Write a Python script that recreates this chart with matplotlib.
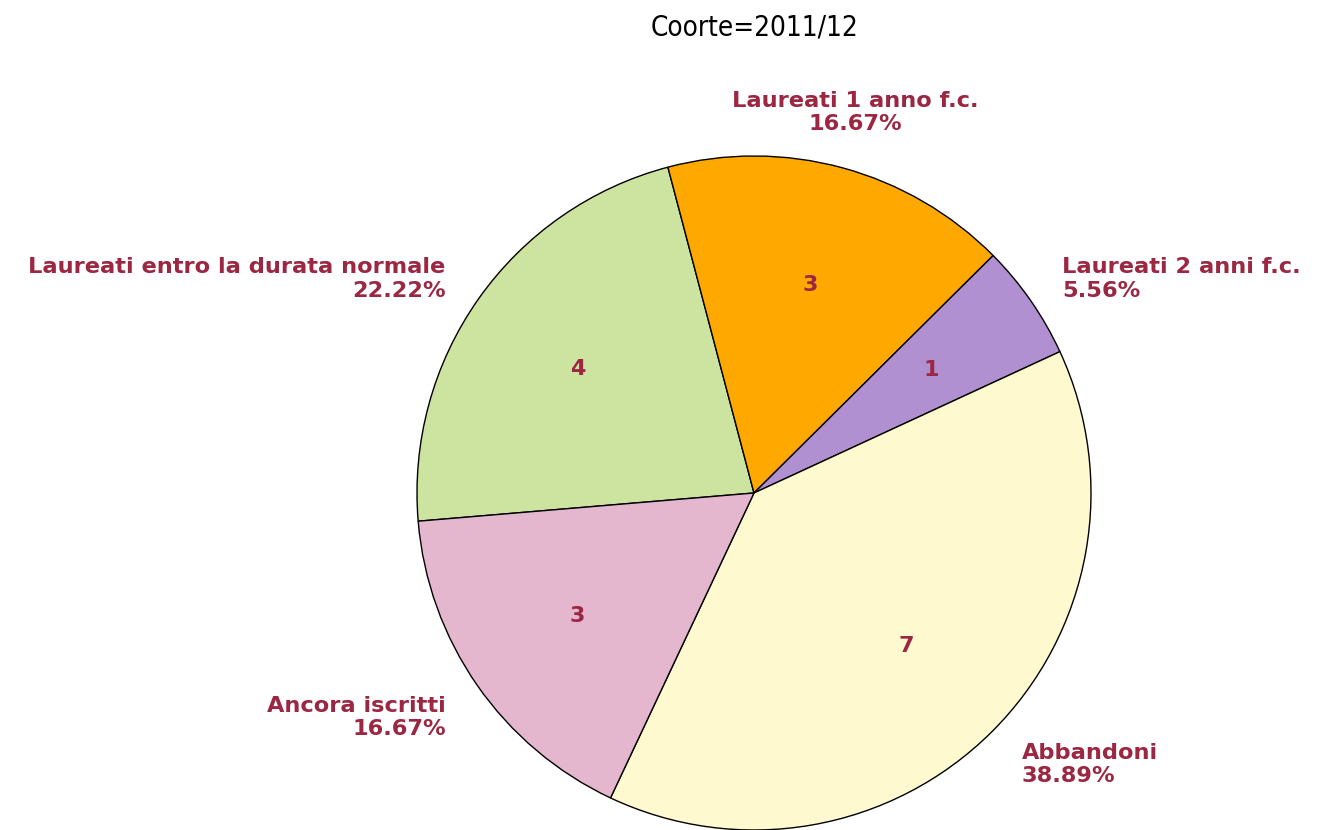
import matplotlib
matplotlib.use('Agg')
import matplotlib.pyplot as plt

categories = ['Laureati entro la durata normale', 'Laureati 1 anno f.c.',
              'Laureati 2 anni f.c.', 'Abbandoni', 'Ancora iscritti']
counts = [4, 3, 1, 7, 3]
colors = ['#cde3a0', '#ffa800', '#b090d0', '#fff9d0', '#e5b7cf']
label_red = '#9b2742'

fig = plt.figure(figsize=(13.39, 8.30), dpi=100)
ax = fig.add_axes([417 / 1339, 0, 674 / 1339, 674 / 830])

total = sum(counts)
wedges, texts = ax.pie(counts, colors=colors, startangle=184.8, counterclock=False,
                       radius=1, labels=[str(c) for c in counts], labeldistance=0.64,
                       wedgeprops=dict(edgecolor='black', linewidth=1))
for t in texts:
    t.set_ha('center')
    t.set_va('center')
    t.set_fontsize(16)
    t.set_fontweight('bold')
    t.set_color(label_red)

# outer labels: (x, y, ha) in data coordinates of the pie
outer = [(-0.915, 0.635, 'right'),
         (0.30, 1.13, 'center'),
         (0.915, 0.635, 'left'),
         (0.795, -0.805, 'left'),
         (-0.915, -0.665, 'right')]
for name, c, (x, y, ha) in zip(categories, counts, outer):
    ax.text(x, y, f'{name}\n{100 * c / total:.2f}%', ha=ha, va='center',
            fontsize=16.2, fontweight='bold', color=label_red, linespacing=1.2)

ax.set_xlim(-1, 1)
ax.set_ylim(-1, 1)
ax.set_aspect('equal')
ax.axis('off')

fig.text(755 / 1339, 1 - 27 / 830, 'Coorte=2011/12', ha='center', va='center',
         fontsize=20, family='DejaVu Sans', fontweight=200,
         fontstretch='condensed', color='black')

fig.savefig('out.png', dpi=100)
